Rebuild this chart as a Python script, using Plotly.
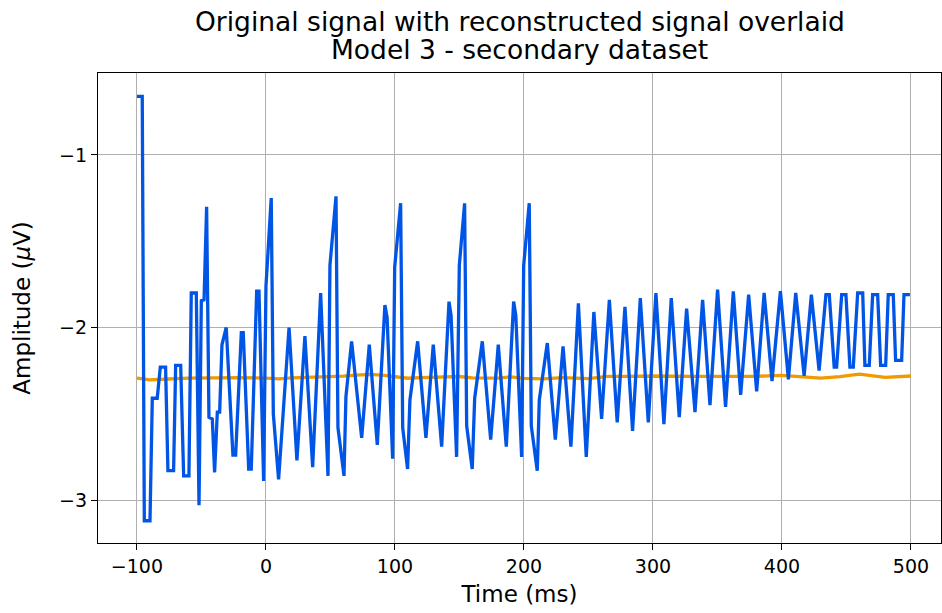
import plotly.graph_objects as go

# Original signal vertices (time in ms, amplitude in µV)
orig_t = [-100, -95.9, -94.3, -89.9, -88.1, -84.3, -81.9, -77.8, -76.0, -71.6, -70.0, -66.1,
          -63.8, -59.7, -57.9, -54.0, -51.9, -50.1, -48.0, -46.0, -44.2, -41.6, -39.8, -37.7,
          -35.9, -34.1, -30.8, -25.6, -23.5, -19.1, -17.6, -13.4, -11.4, -7.2, -5.4, -1.8,
          0.0, 4.1, 5.7, 9.8, 17.9, 24.0, 30.2, 36.2, 42.4, 48.1, 49.6, 54.3, 55.8, 60.5,
          62.0, 66.4, 74.2, 80.1, 86.3, 92.2, 93.9, 98.2, 99.8, 104.4, 106.0, 109.8, 111.6,
          117.6, 124.0, 129.7, 136.2, 141.9, 143.5, 147.8, 149.9, 154.0, 155.6, 159.9, 161.8,
          167.7, 174.2, 180.1, 186.3, 192.0, 193.7, 198.2, 199.8, 204.1, 205.7, 210.3, 211.9,
          218.1, 224.3, 230.3, 236.4, 242.2, 248.3, 254.2, 260.2, 266.2, 272.3, 278.3, 284.2,
          290.2, 296.4, 302.3, 308.5, 314.2, 320.4, 326.1, 332.6, 338.5, 344.2, 350.1, 356.3,
          362.3, 368.0, 374.2, 380.4, 386.2, 392.3, 398.8, 405.0, 410.7, 417.2, 422.8, 428.8,
          434.1, 436.7, 440.5, 442.4, 446.3, 449.6, 452.7, 455.3, 458.7, 462.6, 464.3, 467.7,
          470.3, 474.2, 476.5, 480.4, 482.4, 486.3, 488.1, 492.8, 494.6, 499.2]
orig_v = [-0.66, -0.66, -3.12, -3.12, -2.41, -2.41, -2.23, -2.23, -2.83, -2.83, -2.22, -2.22,
          -2.86, -2.86, -1.80, -1.80, -3.03, -1.845, -1.84, -1.30, -2.52, -2.53, -2.84, -2.49,
          -2.49, -2.10, -2.00, -2.74, -2.74, -2.03, -2.03, -2.82, -2.82, -1.79, -1.79, -2.89,
          -1.76, -1.25, -2.50, -2.88, -2.00, -2.77, -2.05, -2.81, -1.80, -2.86, -1.64, -1.24, -2.58, -2.86,
          -2.40, -2.08, -2.64, -2.10, -2.68, -1.87, -1.94, -2.76, -1.65, -1.28, -2.58, -2.82, -2.42,
          -2.08, -2.64, -2.10, -2.69, -1.85, -1.93, -2.75, -1.64, -1.28, -2.57, -2.82, -2.41,
          -2.08, -2.65, -2.10, -2.69, -1.85, -1.93, -2.75, -1.64, -1.28, -2.57, -2.83, -2.42,
          -2.09, -2.65, -2.11, -2.69, -1.86, -2.75, -1.91, -2.53, -1.84, -2.55, -1.88, -2.60,
          -1.83, -2.55, -1.80, -2.56, -1.83, -2.52, -1.89, -2.49, -1.84, -2.45, -1.78, -2.46,
          -1.79, -2.39, -1.81, -2.37, -1.80, -2.31, -1.79, -2.30, -1.80, -2.28, -1.81, -2.25,
          -1.81, -1.81, -2.23, -2.23, -1.81, -1.81, -2.23, -2.23, -1.80, -1.80, -2.22, -2.22,
          -1.81, -1.81, -2.22, -2.22, -1.81, -1.81, -2.19, -2.19, -1.81, -1.81]

# Reconstructed signal
recon_t = [-100, -90, -80, -60, -40, -20, 0, 10, 20, 40, 50, 60, 70, 80, 90, 100, 110, 120,
           140, 150, 160, 180, 190, 200, 215, 230, 250, 265, 280, 300, 330, 360, 380, 400,
           410, 430, 445, 460, 480, 500]
recon_v = [-2.293, -2.303, -2.300, -2.293, -2.292, -2.290, -2.294, -2.298, -2.292, -2.288,
           -2.283, -2.282, -2.276, -2.272, -2.276, -2.287, -2.294, -2.290, -2.288, -2.284,
           -2.292, -2.294, -2.286, -2.295, -2.298, -2.290, -2.296, -2.283, -2.283, -2.281,
           -2.283, -2.284, -2.283, -2.277, -2.282, -2.293, -2.285, -2.270, -2.289, -2.281]

x_ticks = [-100, 0, 100, 200, 300, 400, 500]
x_labels = ["−100", "0", "100", "200", "300", "400", "500"]
y_ticks = [-1, -2, -3]
y_labels = ["−1", "−2", "−3"]
title_lines = ["Original signal with reconstructed signal overlaid", "Model 3 - secondary dataset"]

fig = go.Figure()
fig.add_trace(go.Scatter(x=recon_t, y=recon_v, mode="lines",
                         line=dict(color="#ee9a00", width=3.3), showlegend=False))
fig.add_trace(go.Scatter(x=orig_t, y=orig_v, mode="lines",
                         line=dict(color="#0055e6", width=3.3), showlegend=False))

font = "DejaVu Sans"
axis_common = dict(showline=True, linecolor="black", linewidth=1.3, mirror=True,
                   ticks="outside", ticklen=6, tickwidth=1.3, tickcolor="black",
                   showgrid=True, gridcolor="#b0b0b0", gridwidth=1.3, zeroline=False,
                   tickfont=dict(family=font, size=19, color="black"))

plot_h = 613 - 73 - 70
for txt, ypx in zip(title_lines, [22, 50]):
    fig.add_annotation(text=txt, xref="paper", yref="paper", x=0.5,
                       y=(613 - 70 - ypx) / plot_h, xanchor="center", yanchor="middle",
                       showarrow=False, font=dict(family=font, size=26.5, color="black"))

fig.update_layout(
    width=942, height=613,
    margin=dict(l=98, r=1, t=73, b=70),
    paper_bgcolor="white", plot_bgcolor="white",
    xaxis=dict(range=[-130.2, 523.3], tickvals=x_ticks, ticktext=x_labels,
               title=dict(text="Time (ms)", font=dict(family=font, size=23, color="black"), standoff=9),
               **axis_common),
    yaxis=dict(range=[-3.249, -0.525], tickvals=y_ticks, ticktext=y_labels,
               title=dict(text="Amplitude (<i>μ</i>V)", font=dict(family=font, size=23, color="black"), standoff=21),
               **axis_common),
)

fig.write_html("out.html")
